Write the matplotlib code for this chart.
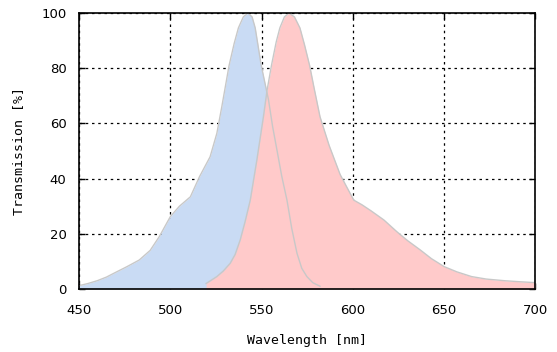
import matplotlib.pyplot as plt

# Excitation (blue) spectrum
ex_nm = [450, 455, 460, 465, 470, 476, 483, 489, 494, 500, 505, 511, 516, 521.8, 525.5,
         528.2, 532.2, 535, 537.3, 540, 542.5, 544.8, 546.5, 549.8, 553.8, 556, 558.4, 561,
         563.9, 566.5, 569.4, 572, 574.8, 578, 582]
ex_val = [1.2, 2, 3, 4.3, 6, 8, 10.5, 14, 19, 26.2, 30, 33.4, 40.7, 47.9, 56.4,
          66, 81, 89, 94.6, 98.6, 100, 98.6, 94.6, 81, 68.5, 59, 50.4, 41,
          32.2, 22, 12.9, 7.5, 4.5, 2.3, 1]

# Emission (red) spectrum
em_nm = [519.6, 522, 525.5, 529, 532.8, 535.5, 538.3, 541, 543.8, 547.4, 551, 553, 555.4,
         558, 560, 562.5, 565, 568, 571, 573.5, 576.3, 578.7, 582, 587, 593, 597, 600.5, 605,
         610, 617, 624, 630, 637, 643, 650, 657, 665, 673, 683, 692, 700]
em_val = [2, 3, 4.5, 6.5, 9.3, 12.5, 17.8, 24.5, 32.2, 46.7, 62.4, 72, 81,
          89.5, 94.6, 98.6, 100, 98.6, 94.6, 88.5, 81, 73, 62.4, 52, 41.5, 36.5, 32.2, 30.5,
          28.3, 25, 20.8, 17.5, 14.1, 11, 8.1, 6.2, 4.5, 3.6, 3, 2.6, 2.3]

xticks = [450, 500, 550, 600, 650, 700]
yticks = [0, 20, 40, 60, 80, 100]

fig = plt.figure(figsize=(5.57, 3.52), dpi=100)
ax = fig.add_axes([0.1418, 0.179, 0.8196, 0.784])

ax.fill_between(ex_nm, ex_val, 0, color='#c9dbf4', lw=0, zorder=2)
ax.fill_between(em_nm, em_val, 0, color='#ffcaca', lw=0, zorder=3)
ax.plot(ex_nm, ex_val, color='#c8c8c8', lw=1, zorder=4)
ax.plot(em_nm, em_val, color='#c8c8c8', lw=1, zorder=4)

ax.set_xlim(450, 700)
ax.set_ylim(0, 100)
ax.set_xticks(xticks)
ax.set_yticks(yticks)
ax.grid(True, color='black', linestyle=(0, (2, 3)), lw=0.9, zorder=1)
ax.set_axisbelow(True)
ax.tick_params(direction='in', length=4, width=1, top=True, right=True,
               labelsize=9.5, colors='black')
ax.tick_params(axis='x', pad=11)
ax.tick_params(axis='y', pad=9)
for s in ax.spines.values():
    s.set_linewidth(1.2)
    s.set_zorder(5)

ax.set_xlabel('Wavelength [nm]', family='DejaVu Sans Mono', fontsize=9.5, labelpad=12)
ax.set_ylabel('Transmission [%]', family='DejaVu Sans Mono', fontsize=9.5, labelpad=12)

fig.savefig('out.png', dpi=100)
